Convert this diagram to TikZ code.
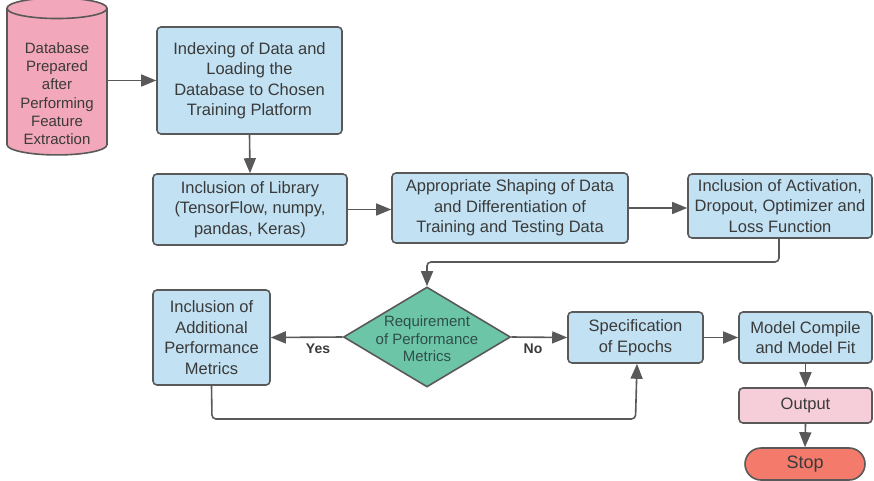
\documentclass[tikz,border=0pt]{standalone}
\usepackage{fontspec}
\setmainfont{Liberation Sans}
\usetikzlibrary{shapes.geometric,arrows.meta}
\definecolor{lineC}{HTML}{595959}
\definecolor{txtC}{HTML}{3A3A3A}
\definecolor{boxBlue}{HTML}{C2E1F2}
\definecolor{dbPink}{HTML}{F2A7BA}
\definecolor{outPink}{HTML}{F6CEDA}
\definecolor{stopRed}{HTML}{F47B6C}
\definecolor{diaGreen}{HTML}{6DC5A8}
\definecolor{diaTxt}{HTML}{2F4F48}
\tikzset{
  box/.style={draw=lineC, fill=boxBlue, line width=1.6pt, rounded corners=4pt,
    text=txtC, align=center, inner sep=0pt,
    font=\fontsize{16.5}{20.5}\selectfont},
  conn/.style={draw=lineC, line width=1.6pt, -{Triangle[length=15pt,width=12pt]}},
  lbl/.style={font=\fontsize{14}{16}\selectfont\bfseries, text=txtC}
}
\begin{document}
\begin{tikzpicture}[x=1pt,y=-1pt]
\useasboundingbox (0,0) rectangle (874,481);
% database cylinder
\node[cylinder, shape border rotate=90, aspect=0.28, draw=lineC, fill=dbPink,
  line width=1.6pt, minimum width=100pt, minimum height=148pt, inner sep=0pt,
  align=center, text=txtC, font=\fontsize{15}{18.2}\selectfont] (db) at (57,82)
  {\\[16pt]Database\\Prepared\\after\\Performing\\Feature\\Extraction};
\node[box, minimum width=185pt, minimum height=107pt] (b1) at (249.5,80.5)
  {Indexing of Data and\\Loading the\\Database to Chosen\\Training Platform};
\node[box, minimum width=194pt, minimum height=71pt] (b2) at (250,209.5)
  {Inclusion of Library\\(TensorFlow, numpy,\\pandas, Keras)};
\node[box, minimum width=236pt, minimum height=70pt] (b3) at (510,208)
  {Appropriate Shaping of Data\\and Differentiation of\\Training and Testing Data};
\node[box, minimum width=184pt, minimum height=64pt] (b4) at (780,206)
  {Inclusion of Activation,\\Dropout, Optimizer and\\Loss Function};
\node[diamond, draw=lineC, fill=diaGreen, line width=1.6pt, inner sep=0pt,
  minimum width=167pt, minimum height=100pt, aspect=1.67,
  label={[text=diaTxt, align=center, font=\fontsize{15}{17.5}\selectfont, yshift=-2pt]center:Requirement\\of Performance\\Metrics}] (dec) at (427,337) {};
\node[box, minimum width=117pt, minimum height=95pt] (b5) at (211.5,337.5)
  {Inclusion of\\Additional\\Performance\\Metrics};
\node[box, minimum width=135pt, minimum height=51pt] (b6) at (635.5,337.5)
  {Specification\\of Epochs};
\node[box, minimum width=133pt, minimum height=51pt] (b7) at (805.5,337.5)
  {Model Compile\\and Model Fit};
\node[box, fill=outPink, minimum width=133pt, minimum height=35pt] (out) at (805.5,405.5)
  {Output};
\node[draw=lineC, fill=stopRed, line width=1.6pt, rounded corners=16pt,
  minimum width=120pt, minimum height=32pt, inner sep=0pt, text=txtC,
  font=\fontsize{18}{20}\selectfont] (stop) at (805,464) {Stop};
% connectors
\draw[conn] (db.east |- b1.west) -- (b1.west);
\draw[conn] (b1.south) -- (b2.north);
\draw[conn] (b2.east) -- (b2.east -| b3.west);
\draw[conn] (b3.east) -- (b4.west |- b3.east);
\coordinate (t1) at (779,262);
\draw[conn, rounded corners=4pt] ([xshift=-1pt]b4.south) -- (t1) -- (t1 -| dec.north) -- (dec.north);
\draw[conn] (dec.west) -- (b5.east);
\draw[conn] (dec.east) -- (b6.west);
\coordinate (lp) at (212,419);
\draw[conn, rounded corners=4pt] (b5.south) -- (lp) -- (lp -| b6.south) -- ([xshift=1.5pt]b6.south);
\draw[conn] (b6.east) -- (b7.west);
\draw[conn] (b7.south) -- (out.north);
\draw[conn] (out.south) -- (stop.north);
\node[lbl] (yes) at (318,349) {Yes};
\node[lbl] (no) at (533,349) {No};
\end{tikzpicture}
\end{document}
